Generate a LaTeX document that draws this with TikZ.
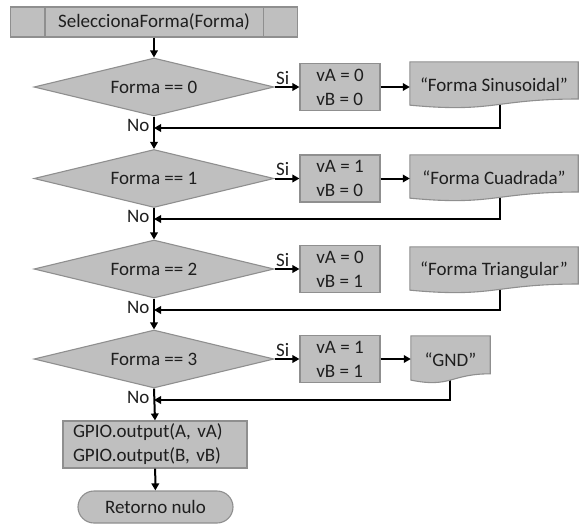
\documentclass[tikz,border=0pt]{standalone}
\usepackage{fontspec}
\setmainfont{Carlito}
\usetikzlibrary{shapes.geometric,arrows.meta,calc}
\pgfdeclarelayer{links}
\pgfdeclarelayer{docs}
\pgfsetlayers{links,docs,main}

\definecolor{boxfill}{HTML}{BFBFBF}
\definecolor{boxline}{HTML}{8F8F8F}
\definecolor{ink}{HTML}{1E1E1E}

% Document symbol with a wavy bottom edge, drawn behind its text node
\newcommand\docpath[1]{%
  \begin{pgfonlayer}{docs}
    \path[blk] (#1.north west) -- (#1.north east)
      -- ($(#1.north east)!0.802!(#1.south east)$)
      .. controls ($(#1.north)!0.802!(#1.south)$) and ($(#1.north)!1.1075!(#1.south)$)
      .. ($(#1.north west)!0.934!(#1.south west)$) -- cycle;
  \end{pgfonlayer}}

\begin{document}
\frenchspacing
\begin{tikzpicture}[x=1pt,y=-1pt,
  every node/.style={font=\fontsize{19}{24}\selectfont, text=ink},
  blk/.style={draw=boxline, line width=1.1pt, fill=boxfill},
  header/.style={blk, rectangle, minimum width=287pt, minimum height=30pt, inner sep=0pt},
  decision/.style={blk, diamond, minimum width=240pt, minimum height=58pt, inner sep=0pt, aspect=4},
  procbox/.style={blk, rectangle, minimum width=80pt, minimum height=47pt, inner sep=0pt, align=left},
  docnode/.style={rectangle, inner sep=0pt, minimum height=46pt},
  gpiobox/.style={blk, rectangle, text width=164pt, inner xsep=10pt, minimum height=47pt, inner ysep=0pt, align=left},
  termbox/.style={blk, rectangle, rounded corners=16pt, minimum width=155pt, minimum height=32pt, inner sep=0pt},
  flow/.style={draw=black, line width=2pt, -{Triangle[length=7pt,width=7.5pt]}},
  si/.style={anchor=south, inner sep=1.5pt, pos=0.33},
  no/.style={anchor=north east, inner sep=1.5pt, pos=0, xshift=-2pt}
]
\useasboundingbox (0,0) rectangle (581,525);

% header: predefined process
\node[header] (hdr) at (154,22) {SeleccionaForma(Forma)};
\draw[boxline, line width=1.1pt] ($(hdr.north west)+(35,0)$) -- ($(hdr.south west)+(35,0)$)
                                 ($(hdr.north east)+(-35,0)$) -- ($(hdr.south east)+(-35,0)$);

% decisions
\node[decision] (q1) at (154,87)    {Forma == 0};
\node[decision] (q2) at (154,178.5) {Forma == 1};
\node[decision] (q3) at (154,269)   {Forma == 2};
\node[decision] (q4) at (154,359)   {Forma == 3};

% assignments
\node[procbox] (b1) at (340,87)    {vA = 0\\vB = 0};
\node[procbox] (b2) at (340,178.5) {vA = 1\\vB = 0};
\node[procbox] (b3) at (340,269)   {vA = 0\\vB = 1};
\node[procbox] (b4) at (340,359)   {vA = 1\\vB = 1};

% messages
\node[docnode, minimum width=168pt] (d1) at (494,85)    {“Forma Sinusoidal”};
\node[docnode, minimum width=168pt] (d2) at (494,178)   {“Forma Cuadrada”};
\node[docnode, minimum width=168pt] (d3) at (494,270)   {“Forma Triangular”};
\node[docnode, minimum width=79pt, minimum height=47pt] (d4) at (450.5,359.5) {“GND”};
\docpath{d1}\docpath{d2}\docpath{d3}\docpath{d4}

% output and end
\node[gpiobox] (gp) at (155,444.5) {GPIO.output(A, vA)\\GPIO.output(B, vB)};
\node[termbox] (rt) at (155.5,507) {Retorno nulo};

% return corners
\coordinate (r1) at (500,128);
\coordinate (r2) at (500,219);
\coordinate (r3) at (500,310);
\coordinate (r4) at (450,400);

% main flow
\draw[flow] (hdr) -- (q1);
\draw[flow] (q1.south) -- node[no]{No} (q2.north);
\draw[flow] (q2.south) -- node[no]{No} (q3.north);
\draw[flow] (q3.south) -- node[no]{No} (q4.north);
\draw[flow] (q4.south) -- node[no]{No} (gp.north);
\draw[flow] (gp) -- (rt);

% yes branches
\draw[flow] (q1.east) -- node[si]{Si} (b1.west);
\draw[flow] (q2.east) -- node[si]{Si} (b2.west);
\draw[flow] (q3.east) -- node[si]{Si} (b3.west);
\draw[flow] (q4.east) -- node[si]{Si} (b4.west);
\draw[flow] (b1.east) -- (b1.east -| d1.west);
\draw[flow] (b2.east) -- (b2.east -| d2.west);
\draw[flow] (b4.east) -- (b4.east -| d4.west);

% returns to the main line
\begin{pgfonlayer}{links}
\draw[flow] (d1.center -| r1) -- (r1) -- (r1 -| q1.south);
\draw[flow] (d2.center -| r2) -- (r2) -- (r2 -| q2.south);
\draw[flow] (d3.center -| r3) -- (r3) -- (r3 -| q3.south);
\draw[flow] (d4.center -| r4) -- (r4) -- (r4 -| q4.south);
\end{pgfonlayer}
\end{tikzpicture}
\end{document}
